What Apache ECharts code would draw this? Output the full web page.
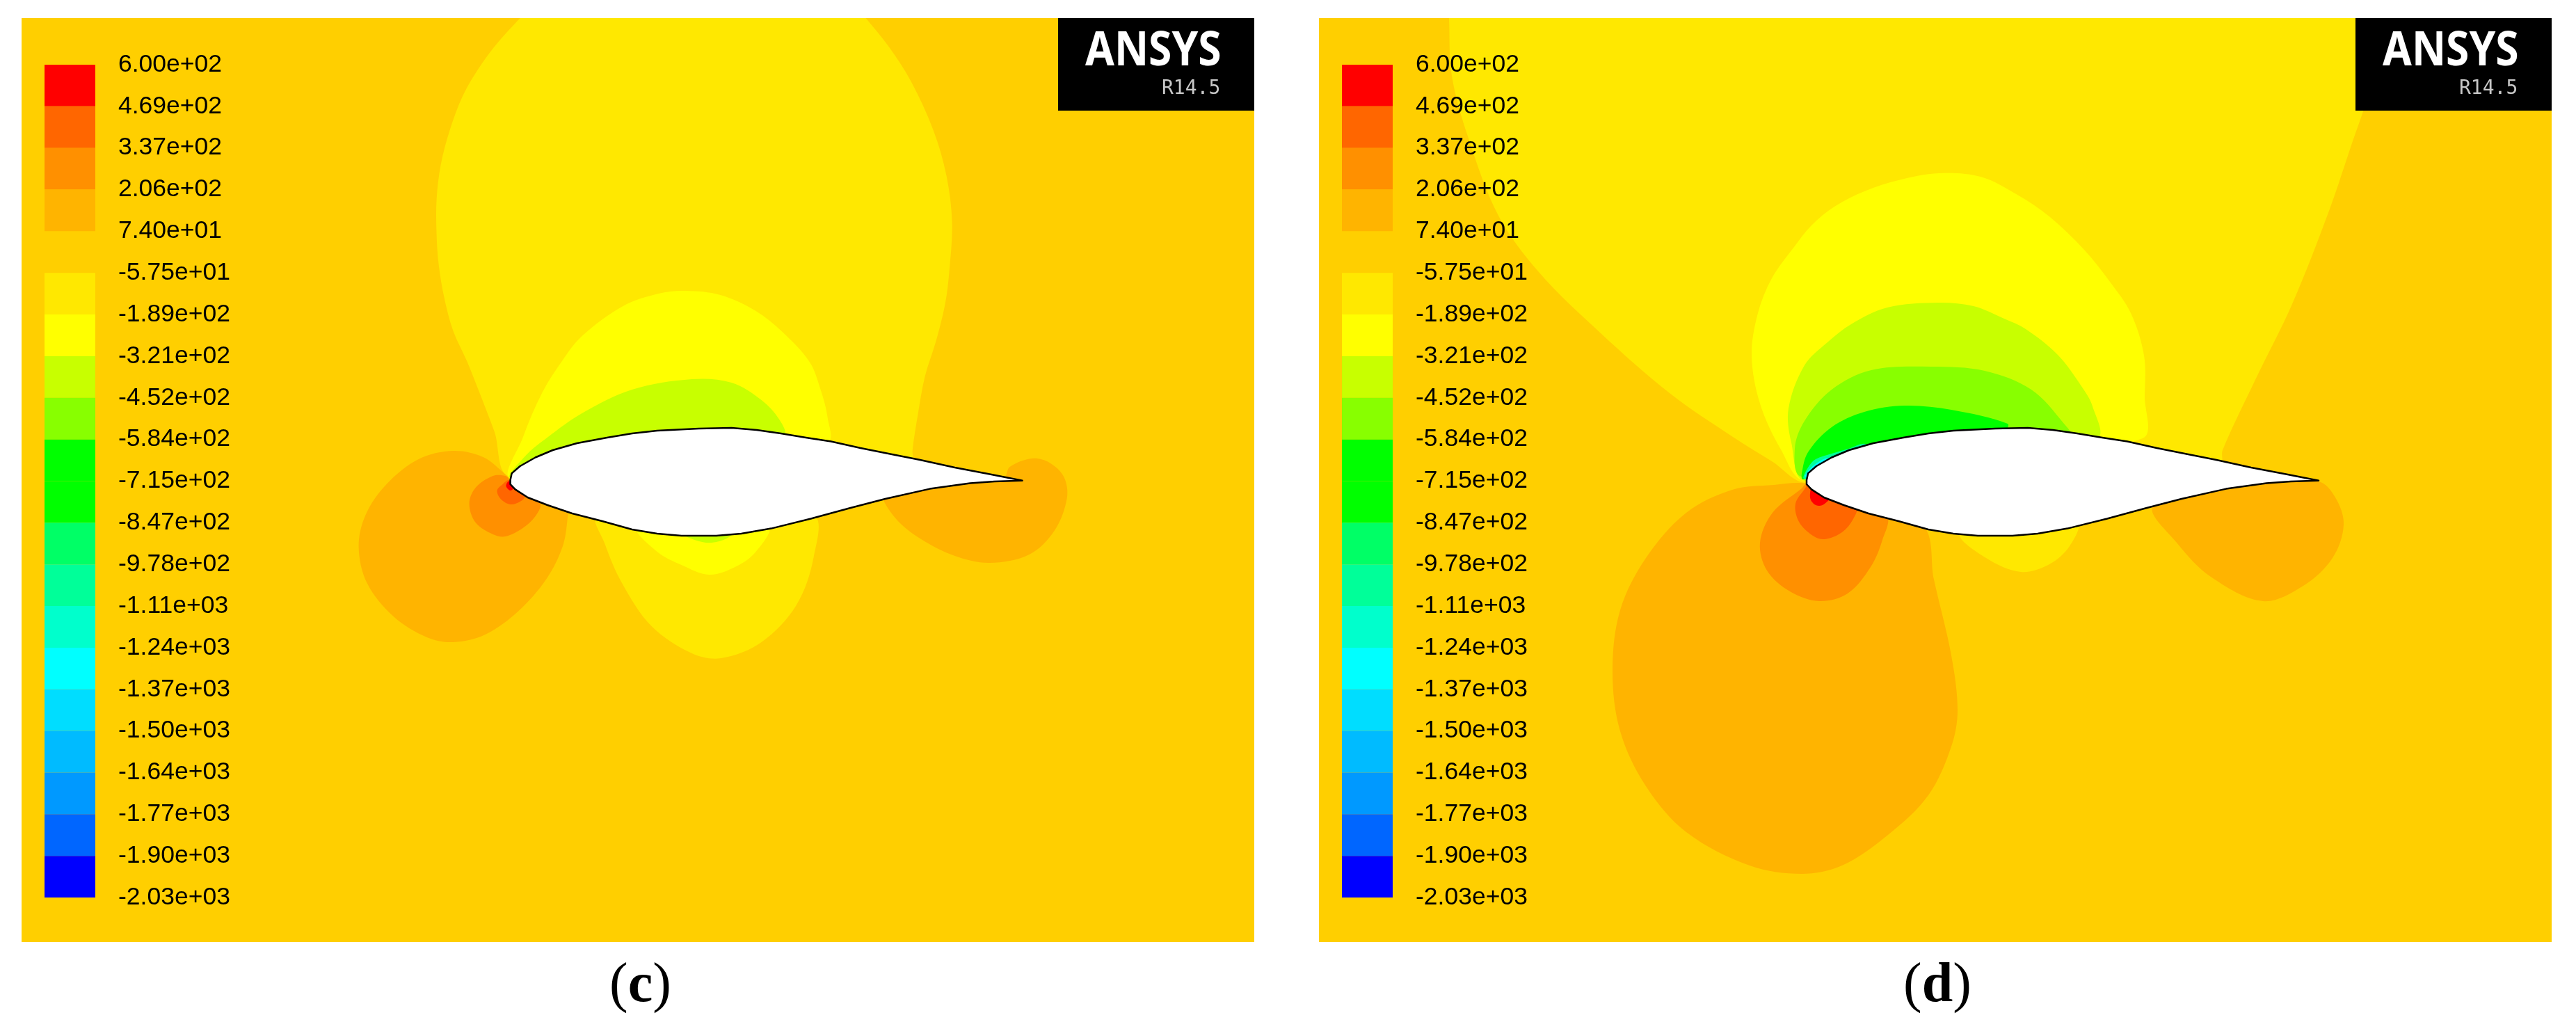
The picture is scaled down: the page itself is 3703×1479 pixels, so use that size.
<!DOCTYPE html>
<html>
<head>
<meta charset="utf-8">
<title>Pressure contours</title>
<style>
  html, body { margin: 0; padding: 0; background: #fff; }
  #main { width: 3703px; height: 1479px; }
</style>
<script src="https://cdn.jsdelivr.net/npm/echarts@6/dist/echarts.min.js"></script>
</head>
<body>
<div id="main"></div>
<script>
// colour scale, top to bottom
const tickLabels = ["6.00e+02","4.69e+02","3.37e+02","2.06e+02","7.40e+01","-5.75e+01","-1.89e+02","-3.21e+02","-4.52e+02","-5.84e+02","-7.15e+02","-8.47e+02","-9.78e+02","-1.11e+03","-1.24e+03","-1.37e+03","-1.50e+03","-1.64e+03","-1.77e+03","-1.90e+03","-2.03e+03"];
const bandColors = ["#ff0000","#ff6600","#ff9000","#ffb400","#ffcf00","#ffe800","#ffff00","#c8ff00","#88ff00","#00ff00","#00ff00","#00ff66","#00ff99","#00ffcc","#00ffff","#00ddff","#00bbff","#0099ff","#0066ff","#0000ff"];

// profile, leading edge at 0,0 (same section in both panels)
const airfoil = [[0,0],[2,9.6],[14,20],[36,32.5],[61,43],[96,53],[139,61],[175,67],[211,71],[271,74],[318,75],[354,72],[389,67],[425,61],[461,55.5],[503.5,46],[546,37.5],[589,29],[639,18],[689,8.4],[736,-0.7],[696,-2],[661,-4.6],[603,-12.6],[539,-27],[489,-40],[432,-55.5],[375,-69.6],[332,-77],[296,-80],[246,-80],[211,-77],[175,-71],[132,-59],[89,-48],[53.5,-36],[25,-25],[7,-13.4],[0,-6]];

// panel c contours (the points above 664 lie past the top edge and get clipped)
const cUpperPale = [[0,5],[-23,70],[-46,130],[-62,170],[-82,214],[-95,262],[-103,310],[-106,353],[-106,403],[-100,453],[-87,503],[-68,553],[-42,597],[-17,630],[14,664],[46,700],[480,700],[511,664],[544,623],[576,573],[608,503],[627,437],[635,370],[631,300],[625,253],[612,200],[596,149],[586,95],[578,42],[578,20],[300,20]];
const cLowerPale = [[125,-50],[136,-92],[161,-149],[203,-210],[261,-249],[303,-256],[361,-233],[411,-180],[436,-111],[436,-50],[300,-40]];
const cUpperYellow = [[1,3],[18,61],[46,126],[75,172],[103,207],[162,250],[213,268],[251,272],[302,266],[353,243],[391,213],[430,170],[446,130],[456,90],[456,55],[250,30]];
const cLowerYellow = [[182,-68],[211,-103],[246,-122],[286,-136],[325,-124],[353,-103],[371,-68],[280,-60]];
const cUpperLime = [[1,3],[21,34],[53,61],[103,96],[175,130],[261,145],[318,140],[361,115],[386,88],[393,65],[250,40]];
const cLowerLime = [[246,-76],[268,-87],[289,-90],[311,-84],[321,-74],[285,-70]];
const cLeftAmber = [[0,0],[-7,8],[-39,33],[-82,42],[-132,30],[-178,-6],[-208,-50],[-218,-96],[-206,-148],[-168,-196],[-120,-226],[-82,-233],[-36,-222],[12,-188],[52,-142],[75,-96],[82,-57],[81,-40],[30,-15]];
const cLeftOrange = [[0,0],[-7,6],[-25,6],[-50,-11],[-59,-34],[-50,-61],[-25,-78],[-7,-81],[18,-69],[36,-52],[43,-34],[20,-12]];
const cLeftDeep = [[-2,0],[-11,-6],[-19,-15],[-14,-27],[0,-35],[14,-31],[21,-23],[8,-8]];
const cLeftRed = [[-3,-2],[-6,-9],[0,-15],[5,-11],[2,-4]];
const cTailAmber = [[750,31],[718,19],[711,4],[700,-1],[539,-22],[553,-54],[589,-84],[639,-109],[689,-119],[746,-107],[782,-73],[800,-27],[796,4],[775,25]];

// panel d contours
const dUpperPale = [[0,-4],[-50,27],[-106,62],[-197,125],[-297,212],[-385,299],[-443,380],[-486,491],[-510,581],[-514,664],[-516,720],[860,720],[800,530],[786,490],[751,387],[698,253],[644,142],[598,43],[594,20],[300,20]];
const dLowerPale = [[221,-78],[258,-112],[308,-132],[349,-121],[378,-95],[389,-62],[300,-60]];
const dUpperYellow = [[-2,-1],[-37,44],[-67,110],[-79,179],[-70,240],[-50,290],[-18,335],[7,366],[40,393],[83,415],[132,431],[190,441],[250,436],[303,410],[350,378],[399,331],[436,285],[466,240],[485,179],[486,120],[483,60],[250,30]];
const dUpperLime = [[-2,-1],[-22,54],[-26,103],[-3,165],[30,198],[64,224],[116,248],[189,255],[240,250],[284,232],[315,217],[361,180],[395,135],[411,106],[418,60],[250,30]];
const dUpperSpring = [[-7,5],[-17,45],[-3,85],[36,130],[93,158],[179,163],[256,157],[323,130],[370,81],[380,62],[200,30]];
const dUpperGreen = [[-5,1],[-7,9],[2,40],[36,76],[83,98],[141,107],[208,101],[289,81],[284,70],[150,30]];
const dUpperTeal = [[-4,2],[2,18],[13,30],[36,38],[60,45],[84,52],[90,40],[20,5]];
const dUpperAqua = [[-2,5],[3,14],[14,24],[30,32],[40,28],[10,5]];
const dLeftAmber = [[0,-5],[-47,-7],[-107,-14],[-173,-47],[-231,-112],[-268,-187],[-279,-274],[-268,-361],[-231,-440],[-173,-506],[-82,-554],[-7,-566],[51,-554],[117,-510],[175,-453],[208,-383],[217,-331],[208,-252],[183,-143],[167,-65],[60,-25]];
const dLeftOrange = [[0,-6],[-7,-12],[-49,-47],[-67,-90],[-57,-130],[-24,-160],[18,-174],[59,-163],[92,-125],[109,-86],[115,-52],[50,-25]];
const dLeftDeep = [[0,-6],[-1,-10],[-16,-34],[-11,-60],[9,-80],[26,-85],[51,-75],[67,-56],[72,-36],[30,-15]];
const dLeftRed = [[8,-10],[5,-25],[10,-34],[18,-37],[26,-34],[34,-24],[20,-12]];
const dTailAmber = [[498,-38],[532,-90],[581,-139],[656,-174],[714,-152],[756,-112],[772,-64],[760,-25],[735,-2],[600,-8]];

// [outline, index in bandColors], painted in this order
const panelC = [[cUpperPale,5],[cLowerPale,5],[cUpperYellow,6],[cLowerYellow,6],[cUpperLime,7],[cLowerLime,7],[cLeftAmber,3],[cLeftOrange,2],[cLeftDeep,1],[cLeftRed,0],[cTailAmber,3]];
const panelD = [[dUpperPale,5],[dLowerPale,5],[dUpperYellow,6],[dUpperLime,7],[dUpperSpring,8],[dUpperGreen,9],[dUpperTeal,12],[dUpperAqua,14],[dLeftAmber,3],[dLeftOrange,2],[dLeftDeep,1],[dLeftRed,0],[dTailAmber,3]];

function contourSeries(layers, axisIdx) {
  return {
    type: "custom",
    xAxisIndex: axisIdx,
    yAxisIndex: axisIdx,
    clip: true,
    silent: true,
    data: layers.map((l, i) => [i, i]),
    renderItem: function (params, api) {
      const layer = layers[params.dataIndex];
      return {
        type: "polygon",
        shape: { points: layer[0].map(p => api.coord(p)), smooth: 0.34 },
        style: { fill: bandColors[layer[1]] }
      };
    }
  };
}

function airfoilSeries(axisIdx) {
  return {
    type: "custom",
    xAxisIndex: axisIdx,
    yAxisIndex: axisIdx,
    silent: true,
    data: [[0, 0]],
    renderItem: function (params, api) {
      return {
        type: "polygon",
        shape: { points: airfoil.map(p => api.coord(p)) },
        style: { fill: "#fff", stroke: "#000", lineWidth: 2.5, lineJoin: "round" }
      };
    }
  };
}

function scaleSeries(axisIdx) {
  return {
    type: "custom",
    xAxisIndex: axisIdx,
    yAxisIndex: axisIdx,
    silent: true,
    data: bandColors.map((c, i) => [0, i]),
    renderItem: function (params, api) {
      const i = params.dataIndex;
      const a = api.coord([0, i]);
      const b = api.coord([1, i + 1]);
      return {
        type: "rect",
        shape: { x: a[0], y: a[1], width: b[0] - a[0], height: b[1] - a[1] },
        style: { fill: bandColors[i] }
      };
    }
  };
}

function scaleYAxis(gridIdx) {
  return {
    gridIndex: gridIdx,
    type: "category",
    data: tickLabels,
    inverse: true,
    boundaryGap: false,
    position: "right",
    z: 20,
    axisLine: { show: false },
    axisTick: { show: false },
    splitLine: { show: false },
    axisLabel: {
      interval: 0,
      margin: 33,
      padding: [4, 0, 0, 0],
      color: "#000",
      fontFamily: "Liberation Sans",
      fontSize: 35.5
    }
  };
}

function logo(left) {
  return [
    { type: "rect", x: left, y: 26, z: 50, shape: { width: 282, height: 133 }, style: { fill: "#000" } },
    { type: "text", x: left + 39, y: 75, scaleX: 0.89, z: 51, style: { text: "ANSYS", fill: "#fff", font: "bold 68px 'Noto Sans'", verticalAlign: "middle" } },
    { type: "text", x: left + 149, y: 128, z: 51, style: { text: "R14.5", fill: "#c8c8c8", font: "28px 'DejaVu Sans Mono'", verticalAlign: "middle" } }
  ];
}

function caption(letter, center) {
  return {
    type: "text",
    left: center,
    top: 1378,
    z: 51,
    style: {
      text: "{p|(}{b|" + letter + "}{p|)}",
      rich: {
        p: { font: "80px 'Liberation Serif'", fill: "#000" },
        b: { font: "bold 80px 'Liberation Serif'", fill: "#000" }
      }
    }
  };
}

let myChart = echarts.init(document.getElementById("main"), null, { renderer: "canvas" });
myChart.setOption({
  animation: false,
  backgroundColor: "#fff",
  grid: [
    { left: 31, top: 26, width: 1772, height: 1328, show: true, backgroundColor: "#ffcf00", borderWidth: 0 },
    { left: 1896, top: 26, width: 1772, height: 1328, show: true, backgroundColor: "#ffcf00", borderWidth: 0 },
    { left: 64, top: 93, width: 73, height: 1197 },
    { left: 1929, top: 93, width: 73, height: 1197 }
  ],
  xAxis: [
    { gridIndex: 0, type: "value", min: -702.6, max: 1069.4, show: false },
    { gridIndex: 1, type: "value", min: -701, max: 1071, show: false },
    { gridIndex: 2, type: "value", min: 0, max: 1, show: false },
    { gridIndex: 3, type: "value", min: 0, max: 1, show: false }
  ],
  yAxis: [
    { gridIndex: 0, type: "value", min: -664, max: 664, show: false },
    { gridIndex: 1, type: "value", min: -664, max: 664, show: false },
    scaleYAxis(2),
    scaleYAxis(3)
  ],
  series: [
    contourSeries(panelC, 0),
    airfoilSeries(0),
    contourSeries(panelD, 1),
    airfoilSeries(1),
    scaleSeries(2),
    scaleSeries(3)
  ],
  graphic: logo(1521).concat(logo(3386), [caption("c", 876), caption("d", 2736)])
});
</script>
</body>
</html>
